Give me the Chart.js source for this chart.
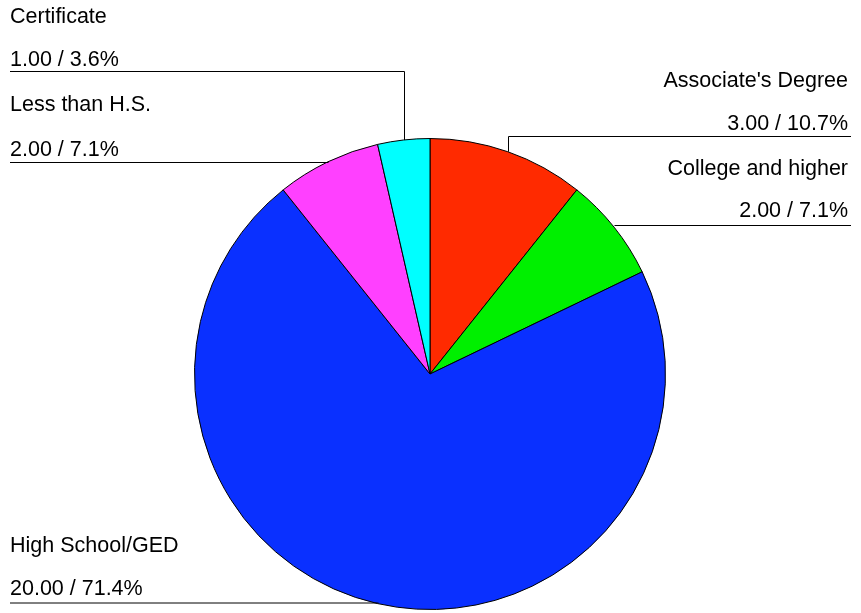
<!DOCTYPE html>
<html>
<head>
<meta charset="utf-8">
<script src="https://cdn.jsdelivr.net/npm/chart.js@4/dist/chart.umd.min.js"></script>
<style>
  html, body { margin: 0; padding: 0; background: #ffffff; }
  #wrap { width: 861px; height: 613px; }
</style>
</head>
<body>
<div id="wrap"><canvas id="c" width="861" height="613"></canvas></div>
<script>
// ---- data ----
const categories = ["Associate's Degree", "College and higher", "High School/GED", "Less than H.S.", "Certificate"];
const values = [3, 2, 20, 2, 1];
const colors = ["#FF2A00", "#00F000", "#0A30FF", "#FF40FF", "#00FFFF"];

// label placement (layout only)
const labelLayout = [
  { side: 'right', nameY: 87,  valueY: 130, lineY: 136.5 },
  { side: 'right', nameY: 175, valueY: 217, lineY: 225.5 },
  { side: 'left',  nameY: 552, valueY: 595, lineY: 603 },
  { side: 'left',  nameY: 111, valueY: 156, lineY: 162.5 },
  { side: 'left',  nameY: 23,  valueY: 66,  lineY: 71.5 }
];

const total = values.reduce((a, b) => a + b, 0);

const labelPlugin = {
  id: 'pieLabels',
  afterDraw(chart) {
    const ctx = chart.ctx;
    const meta = chart.getDatasetMeta(0);
    ctx.save();
    ctx.font = '21.5px "Liberation Sans", Arial, sans-serif';
    ctx.fillStyle = '#000000';
    ctx.textBaseline = 'alphabetic';
    meta.data.forEach((arc, i) => {
      const L = labelLayout[i];
      const mid = (arc.startAngle + arc.endAngle) / 2;
      const px = arc.x + Math.cos(mid) * arc.outerRadius;
      const py = arc.y + Math.sin(mid) * arc.outerRadius;
      const v = values[i];
      const valText = v.toFixed(2) + ' / ' + (v / total * 100).toFixed(1) + '%';
      let edgeX;
      if (L.side === 'left') {
        ctx.textAlign = 'left';
        ctx.fillText(categories[i], 10, L.nameY);
        ctx.fillText(valText, 10, L.valueY);
        edgeX = 10;
      } else {
        ctx.textAlign = 'right';
        ctx.fillText(categories[i], 848, L.nameY);
        ctx.fillText(valText, 848, L.valueY);
        edgeX = 851;
      }
      ctx.strokeStyle = '#000000';
      ctx.lineWidth = 1;
      ctx.beginPath();
      const vx = Math.round(px) + 0.5;
      ctx.moveTo(edgeX, L.lineY);
      ctx.lineTo(vx, L.lineY);
      if (py > L.lineY + 2) ctx.lineTo(vx, py);
      ctx.stroke();
    });
    ctx.restore();
  }
};

new Chart(document.getElementById('c'), {
  type: 'pie',
  data: {
    labels: categories,
    datasets: [{
      data: values,
      backgroundColor: colors,
      borderColor: '#000000',
      borderWidth: 1
    }]
  },
  options: {
    responsive: false,
    animation: false,
    layout: { padding: { left: 194, right: 195, top: 138, bottom: 3 } },
    plugins: {
      legend: { display: false },
      tooltip: { enabled: false }
    }
  },
  plugins: [labelPlugin]
});
</script>
</body>
</html>
